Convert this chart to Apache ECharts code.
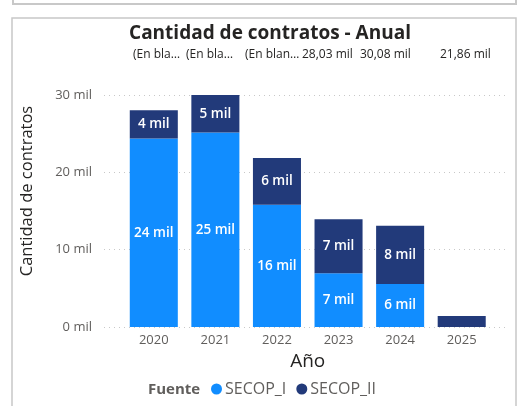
<!DOCTYPE html>
<html>
<head>
<meta charset="utf-8">
<script src="https://cdn.jsdelivr.net/npm/echarts@6/dist/echarts.min.js"></script>
<style>
  html, body { margin: 0; padding: 0; background: #fff; }
  #chart { width: 520px; height: 406px; }
</style>
</head>
<body>
<div id="chart"></div>
<script>
  // años y valores (miles de contratos)
  const years = ['2020', '2021', '2022', '2023', '2024', '2025']
  const secopI = [24.36, 25.14, 15.82, 6.95, 5.56, 0]
  const secopII = [3.67, 4.94, 6.04, 6.98, 7.54, 1.42]
  const yTicks = [0, 10, 20, 30]
  // fila de etiquetas recortadas de arriba (tal cual aparece)
  const topLabels = ['(En bla…', '(En bla…', '(En blan…', '28,03 mil', '30,08 mil', '21,86 mil']
  const topLabelX = [133, 186, 245, 302, 360, 440]

  const font = "'Segoe UI', 'Open Sans', 'Noto Sans', sans-serif"
  const chart = echarts.init(document.getElementById('chart'))

  const barLabel = {
    show: true,
    position: 'inside',
    color: '#fff',
    fontSize: 13.5,
    fontWeight: 600,
    fontFamily: font,
    formatter: (p) => p.value < 2 ? '' : Math.round(p.value) + ' mil'
  }

  const graphic = [
    // marcos de las tarjetas
    { type: 'rect', shape: { x: 13, y: -10, width: 503, height: 14 }, style: { fill: 'none', stroke: '#c8c8c8', lineWidth: 2 }, silent: true },
    { type: 'rect', shape: { x: 12, y: 18, width: 504, height: 400 }, style: { fill: 'none', stroke: '#c8c8c8', lineWidth: 1.5 }, silent: true },
    {
      type: 'text', x: 27, y: 191, rotation: Math.PI / 2,
      style: { text: 'Cantidad de contratos', fill: '#252423', font: '16.5px ' + font, align: 'center', verticalAlign: 'middle' }
    },
    {
      type: 'text', x: 148, y: 390,
      style: { text: 'Fuente', fill: '#605E5C', font: 'bold 15px ' + font, verticalAlign: 'middle' }
    }
  ]
  topLabels.forEach((t, i) => {
    graphic.push({
      type: 'text', x: topLabelX[i], y: 55,
      style: { text: t, fill: '#252423', font: '12px ' + font, verticalAlign: 'middle' }
    })
  })

  chart.setOption({
    animation: false,
    title: {
      text: 'Cantidad de contratos - Anual',
      left: 265,
      textAlign: 'center',
      top: 19,
      textStyle: { fontSize: 19, fontWeight: 'bold', color: '#252423', fontFamily: font }
    },
    color: ['#118DFF', '#223A7A'],
    legend: {
      left: 211,
      top: 381,
      padding: 0,
      icon: 'circle',
      itemWidth: 11,
      itemHeight: 11,
      itemGap: 10,
      textStyle: { color: '#605E5C', fontSize: 16, fontFamily: font, padding: [0, 0, 0, -2] },
      data: ['SECOP_I', 'SECOP_II']
    },
    grid: [
      { left: 104, right: 12, top: 95, bottom: 79 },
      { left: 123, right: 27.5, top: 95, bottom: 79 }
    ],
    xAxis: [
      { gridIndex: 0, type: 'value', show: false },
      {
        gridIndex: 1,
        type: 'category',
        data: years,
        axisLine: { show: false },
        axisTick: { show: false },
        axisLabel: { color: '#605E5C', fontSize: 13, fontFamily: font, margin: 7 },
        name: 'Año',
        nameLocation: 'middle',
        nameGap: 25,
        nameTextStyle: { color: '#252423', fontSize: 19, fontFamily: font }
      }
    ],
    yAxis: [
      {
        gridIndex: 0,
        type: 'value',
        min: yTicks[0],
        max: yTicks[yTicks.length - 1],
        interval: 10,
        axisLine: { show: false },
        axisTick: { show: false },
        axisLabel: { color: '#605E5C', fontSize: 13, fontFamily: font, margin: 12, formatter: (v) => v + ' mil' },
        splitLine: { lineStyle: { color: '#c8c8c8', type: [1, 4], width: 1 } }
      },
      {
        gridIndex: 1,
        type: 'value',
        min: yTicks[0],
        max: yTicks[yTicks.length - 1],
        interval: 10,
        show: false,
        splitLine: { show: false }
      }
    ],
    series: [
      {
        name: 'SECOP_I', type: 'bar', stack: 'total', xAxisIndex: 1, yAxisIndex: 1,
        barCategoryGap: '22%', data: secopI, label: barLabel
      },
      {
        name: 'SECOP_II', type: 'bar', stack: 'total', xAxisIndex: 1, yAxisIndex: 1,
        barCategoryGap: '22%', data: secopII, label: barLabel
      }
    ],
    graphic: graphic
  })
</script>
</body>
</html>
